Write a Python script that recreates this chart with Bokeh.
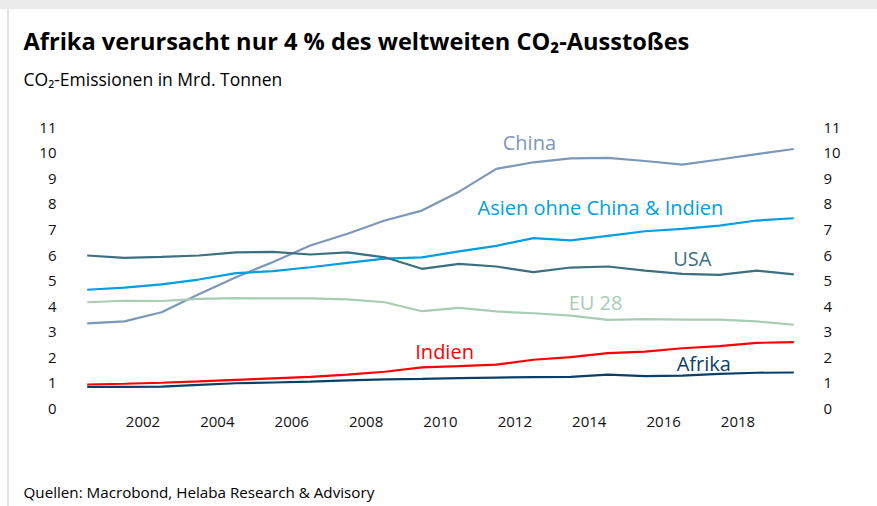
import numpy as np
from bokeh.plotting import figure
from bokeh.models import LinearAxis, Range1d, FixedTicker, Label, Title
from bokeh.embed import file_html
from bokeh.resources import INLINE

# ---- data (Mrd. Tonnen CO2) ----
years = list(range(2000, 2020))
china = [3.34, 3.42, 3.78, 4.48, 5.15, 5.75, 6.39, 6.85, 7.37, 7.76,
         8.50, 9.39, 9.65, 9.80, 9.82, 9.70, 9.56, 9.76, 9.97, 10.17]
asien = [4.66, 4.74, 4.87, 5.06, 5.31, 5.39, 5.54, 5.71, 5.88, 5.93,
         6.16, 6.38, 6.68, 6.59, 6.77, 6.95, 7.04, 7.17, 7.37, 7.46]
usa = [6.00, 5.91, 5.95, 6.00, 6.12, 6.14, 6.04, 6.12, 5.93, 5.48,
       5.67, 5.57, 5.35, 5.53, 5.57, 5.41, 5.28, 5.24, 5.41, 5.26]
eu28 = [4.17, 4.23, 4.22, 4.30, 4.33, 4.32, 4.32, 4.28, 4.17, 3.82,
        3.95, 3.81, 3.74, 3.65, 3.48, 3.51, 3.49, 3.49, 3.42, 3.29]
indien = [0.95, 0.98, 1.02, 1.07, 1.13, 1.19, 1.25, 1.34, 1.45, 1.62,
          1.67, 1.73, 1.92, 2.02, 2.18, 2.24, 2.37, 2.45, 2.58, 2.61]
afrika = [0.86, 0.86, 0.87, 0.94, 1.00, 1.03, 1.06, 1.11, 1.15, 1.17,
          1.20, 1.22, 1.24, 1.25, 1.34, 1.28, 1.30, 1.37, 1.41, 1.42]

x_ticks = [2002, 2004, 2006, 2008, 2010, 2012, 2014, 2016, 2018]
y_ticks = list(range(0, 12))

series = [
    ("China", china, "#7b98b8"),
    ("Asien ohne China & Indien", asien, "#009fe3"),
    ("USA", usa, "#3c6f80"),
    ("EU 28", eu28, "#a7cdb3"),
    ("Indien", indien, "#ff0000"),
    ("Afrika", afrika, "#0b3f69"),
]

FONT = "Open Sans"

p = figure(width=877, height=506, output_backend="svg", toolbar_location=None,
           x_range=Range1d(2000.32, 2019.68), y_range=Range1d(-0.067, 11.286),
           min_border_left=80, min_border_right=77, min_border_top=120,
           min_border_bottom=96)
p.title.text = ""
p.outline_line_color = None
p.xgrid.visible = False
p.ygrid.visible = False
p.background_fill_color = "white"
p.border_fill_color = None
p.styles = {
    "background-color": "white",
    "background-image": "linear-gradient(#ebebeb, #ebebeb), linear-gradient(#e4e4e4, #e4e4e4)",
    "background-size": "100% 9px, 2px 100%",
    "background-position": "0 0, 7px 0",
    "background-repeat": "no-repeat",
}

xs = np.array(years) + 0.5  # annual values plotted mid-year
for name, vals, col in series:
    p.line(xs, vals, line_color=col, line_width=2.2)

p.add_layout(LinearAxis(), "right")


def style_axis(ax, standoff):
    ax.axis_line_color = None
    ax.major_tick_line_color = None
    ax.minor_tick_line_color = None
    ax.major_tick_out = 0
    ax.major_tick_in = 0
    ax.minor_tick_out = 0
    ax.minor_tick_in = 0
    ax.major_label_text_font = FONT
    ax.major_label_text_font_size = "15px"
    ax.major_label_text_color = "#111111"
    ax.major_label_standoff = standoff


p.xaxis.ticker = FixedTicker(ticks=x_ticks)
for ax in p.yaxis:
    ax.ticker = FixedTicker(ticks=y_ticks)
style_axis(p.xaxis[0], 6)
style_axis(p.yaxis[0], 24)
style_axis(p.yaxis[1], 23)

# series labels (data coordinates, baseline anchored)
label_pos = {
    "China": (2012.39, 10.42),
    "Asien ohne China & Indien": (2014.30, 7.88),
    "USA": (2016.77, 5.88),
    "EU 28": (2014.17, 4.16),
    "Indien": (2010.11, 2.23),
    "Afrika": (2017.08, 1.78),
}
for name, vals, col in series:
    lx, ly = label_pos[name]
    p.add_layout(Label(x=lx, y=ly, text=name, text_color=col,
                       text_font=FONT, text_font_size="20px",
                       text_align="center", text_baseline="alphabetic"))

# title, subtitle (above) and source (below); blank titles act as spacers
gap_top = Title(text=" ", text_font_size="1px", standoff=17.5)
sub = Title(text="CO₂-Emissionen in Mrd. Tonnen", align="left", offset=-57,
            text_font=FONT, text_font_size="17.5px", text_font_style="normal",
            text_color="#000000", standoff=17)
main = Title(text="Afrika verursacht nur 4 % des weltweiten CO₂-Ausstoßes",
             align="left", offset=-57, text_font=FONT, text_font_size="23.6px",
             text_font_style="bold", text_color="#000000", standoff=0)
p.add_layout(gap_top, "above")
p.add_layout(sub, "above")
p.add_layout(main, "above")

gap_bottom = Title(text=" ", text_font_size="1px", standoff=47)
src = Title(text="Quellen: Macrobond, Helaba Research & Advisory", align="left",
            offset=-57, text_font=FONT, text_font_size="15.2px",
            text_font_style="normal", text_color="#000000", standoff=0)
p.add_layout(gap_bottom, "below")
p.add_layout(src, "below")

open("out.html", "w").write(file_html(p, INLINE))
